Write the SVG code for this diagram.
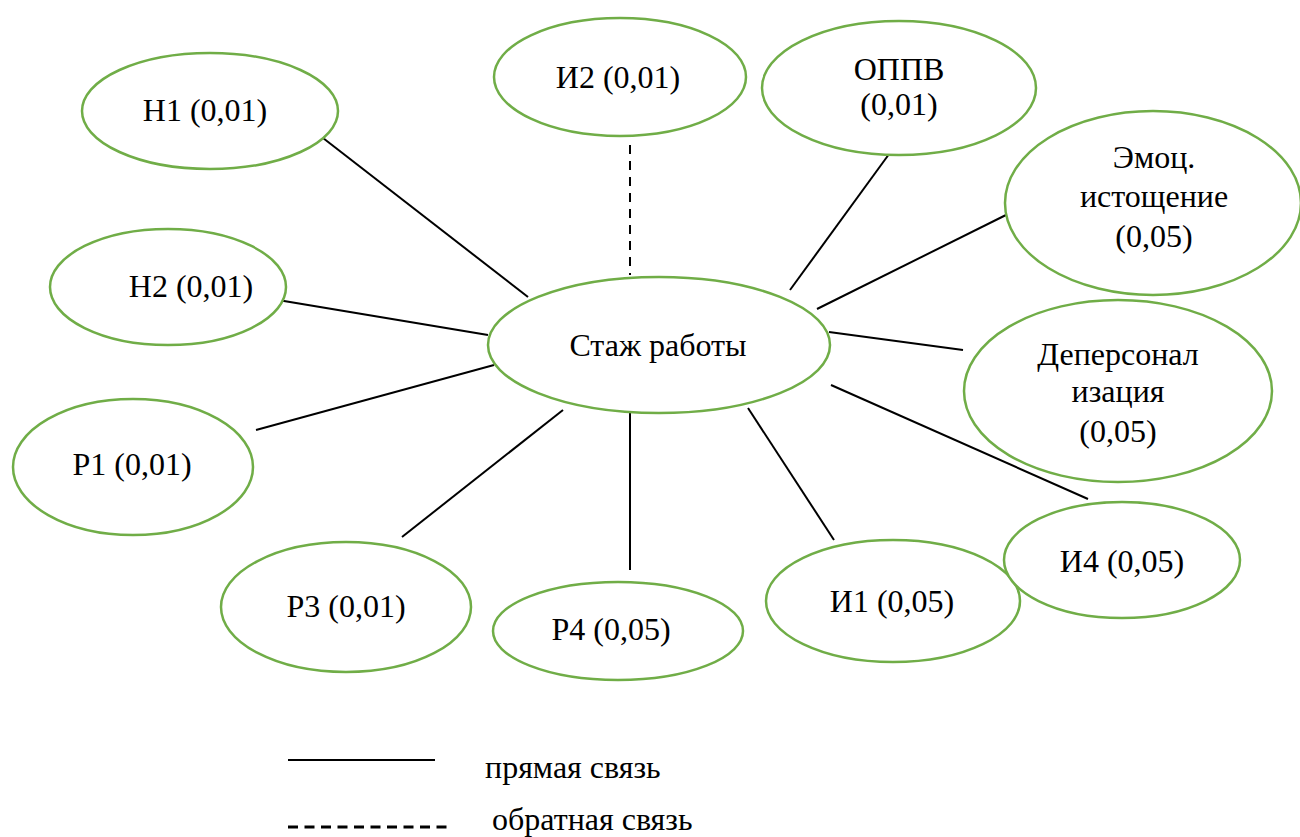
<svg xmlns="http://www.w3.org/2000/svg" width="1300" height="837" viewBox="0 0 1300 837">
<style>
.n{fill:#fff;stroke:#70AD47;stroke-width:2.5}
text{font-family:'Liberation Serif','DejaVu Serif',serif;font-size:32px;fill:#000;text-anchor:middle}
.c line{stroke:#000;stroke-width:2}
.d{stroke-dasharray:9 7}
</style>
<rect width="1300" height="837" fill="#fff"/>
<g class="c" id="connectors">
<line x1="323" y1="138" x2="528" y2="297"/>
<line x1="630" y1="145" x2="630" y2="275" class="d"/>
<line x1="892" y1="150" x2="790" y2="290"/>
<line x1="1012" y1="212" x2="817" y2="309"/>
<line x1="278" y1="300" x2="488" y2="335"/>
<line x1="829" y1="332" x2="963" y2="350"/>
<line x1="256" y1="430" x2="494" y2="365"/>
<line x1="831" y1="385" x2="1088" y2="499"/>
<line x1="402" y1="537" x2="563" y2="410"/>
<line x1="630" y1="413" x2="630" y2="570"/>
<line x1="748" y1="408" x2="834" y2="540"/>
</g>
<g id="n-center"><ellipse class="n" cx="659" cy="345" rx="171" ry="68"/><text x="658" y="356">Стаж работы</text></g>
<g id="n-h1"><ellipse class="n" cx="210" cy="111" rx="128" ry="58"/><text x="205" y="121">Н1 (0,01)</text></g>
<g id="n-i2"><ellipse class="n" cx="620" cy="77" rx="126" ry="59"/><text x="618" y="88">И2 (0,01)</text></g>
<g id="n-oppv"><ellipse class="n" cx="899" cy="88" rx="137" ry="67"/><text x="899" y="80">ОППВ</text><text x="899" y="115">(0,01)</text></g>
<g id="n-emo"><ellipse class="n" cx="1153" cy="203" rx="148" ry="92"/><text x="1154" y="168">Эмоц.</text><text x="1154" y="207">истощение</text><text x="1154" y="247">(0,05)</text></g>
<g id="n-h2"><ellipse class="n" cx="168" cy="287" rx="118" ry="58"/><text x="191" y="297">Н2 (0,01)</text></g>
<g id="n-dep"><ellipse class="n" cx="1118" cy="391" rx="154" ry="91"/><text x="1118" y="365">Деперсонал</text><text x="1118" y="402">изация</text><text x="1118" y="442">(0,05)</text></g>
<g id="n-p1"><ellipse class="n" cx="133" cy="467" rx="120" ry="68"/><text x="132" y="475">Р1 (0,01)</text></g>
<g id="n-p3"><ellipse class="n" cx="346" cy="607" rx="125" ry="65"/><text x="346" y="617">Р3 (0,01)</text></g>
<g id="n-p4"><ellipse class="n" cx="618" cy="631" rx="125" ry="49"/><text x="611" y="640">Р4 (0,05)</text></g>
<g id="n-i1"><ellipse class="n" cx="893" cy="601" rx="127" ry="61"/><text x="892" y="612">И1 (0,05)</text></g>
<g id="n-i4"><ellipse class="n" cx="1122" cy="560" rx="118" ry="58"/><text x="1122" y="572">И4 (0,05)</text></g>
<g id="legend">
<line x1="288" y1="760" x2="435" y2="760" stroke="#000" stroke-width="2"/>
<text x="485" y="778" style="text-anchor:start">прямая связь</text>
<line x1="288" y1="827" x2="447" y2="827" stroke="#000" stroke-width="3" stroke-dasharray="10 6.5"/>
<text x="492" y="830" style="text-anchor:start">обратная связь</text>
</g>
</svg>
